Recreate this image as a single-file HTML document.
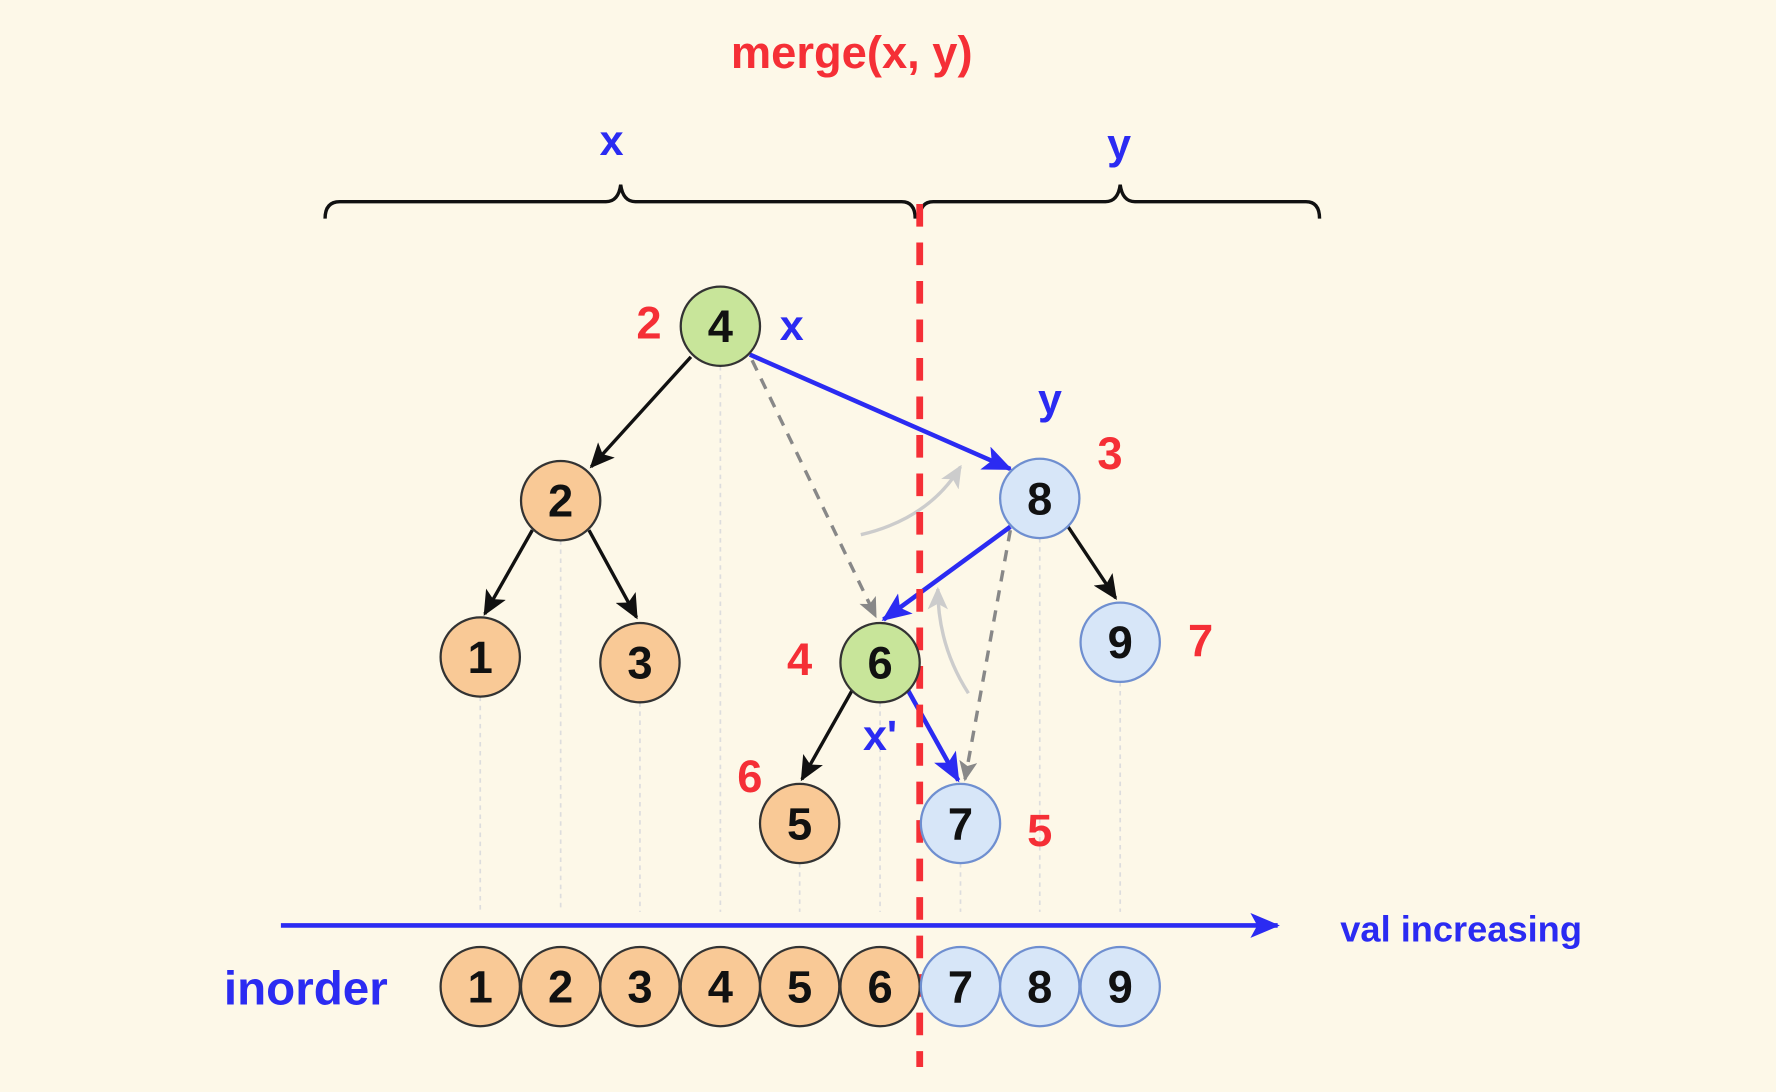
<!DOCTYPE html>
<html><head><meta charset="utf-8"><style>
html,body{margin:0;padding:0;background:#fdf8e8;}
svg{display:block}
text{font-family:"Liberation Sans","DejaVu Sans",sans-serif;font-weight:bold}
</style></head><body>
<svg width="1776" height="1092" viewBox="0 0 1568 964" xmlns="http://www.w3.org/2000/svg">
<defs>
<marker id="ak" markerWidth="10" markerHeight="10" refX="8" refY="5" orient="auto" markerUnits="userSpaceOnUse" viewBox="0 0 10 10"><path d="M0,0 L10,5 L0,10 L3,5z" fill="#111"/></marker>
<marker id="ab" markerWidth="26" markerHeight="22" refX="24" refY="11" orient="auto" markerUnits="userSpaceOnUse"><path d="M0,0 L26,11 L0,22 L6,11z" fill="#2b2bf2"/></marker>
<marker id="ak2" markerWidth="22" markerHeight="20" refX="20" refY="10" orient="auto" markerUnits="userSpaceOnUse"><path d="M0,0 L22,10 L0,20 L5,10z" fill="#111"/></marker>
<marker id="ag" markerWidth="18" markerHeight="16" refX="16" refY="8" orient="auto" markerUnits="userSpaceOnUse"><path d="M0,0 L18,8 L0,16 L4,8z" fill="#888"/></marker>
<marker id="al" markerWidth="20" markerHeight="18" refX="18" refY="9" orient="auto" markerUnits="userSpaceOnUse"><path d="M0,0 L20,9 L0,18 L5,9z" fill="#ccc"/></marker>
</defs>
<rect width="1568" height="964" fill="#fdf8e8"/>
<text x="752" y="60" font-size="40" fill="#f52f36" text-anchor="middle">merge(x, y)</text>
<text x="540" y="137" font-size="38" fill="#2b2bf2" text-anchor="middle">x</text>
<text x="988" y="140" font-size="38" fill="#2b2bf2" text-anchor="middle">y</text>
<g fill="none" stroke="#111" stroke-width="3">
<path d="M287,193 Q287,178 300,178 L535,178 Q546,178 548,163 Q550,178 561,178 L796,178 Q808,178 808,193"/>
<path d="M812,193 Q812,178 824,178 L976,178 Q987,178 989,163 Q991,178 1002,178 L1153,178 Q1165,178 1165,193"/>
</g>
<g stroke="#ddd" stroke-width="1.5" stroke-dasharray="4,4">
<line x1="424" y1="615" x2="424" y2="805"/><line x1="495" y1="477" x2="495" y2="805"/><line x1="565" y1="620" x2="565" y2="805"/><line x1="636" y1="323" x2="636" y2="805"/><line x1="706" y1="762" x2="706" y2="805"/><line x1="777" y1="620" x2="777" y2="805"/><line x1="848" y1="762" x2="848" y2="805"/><line x1="918" y1="475" x2="918" y2="805"/><line x1="989" y1="602" x2="989" y2="805"/>
</g>
<g stroke="#111" stroke-width="3" fill="none">
<line x1="610" y1="315" x2="522" y2="412" marker-end="url(#ak2)"/>
<line x1="470" y1="468" x2="428" y2="542" marker-end="url(#ak2)"/>
<line x1="520" y1="468" x2="562" y2="545" marker-end="url(#ak2)"/>
<line x1="752" y1="610" x2="708" y2="688" marker-end="url(#ak2)"/>
<line x1="943" y1="465" x2="985" y2="528" marker-end="url(#ak2)"/>
</g>
<g stroke="#888" stroke-width="3" stroke-dasharray="10,8" fill="none">
<line x1="664" y1="318" x2="773" y2="544" marker-end="url(#ag)"/>
<line x1="892" y1="468" x2="852" y2="688" marker-end="url(#ag)"/>
</g>
<g stroke="#ccc" stroke-width="3" fill="none">
<path d="M760,472 Q820,458 848,412" marker-end="url(#al)"/>
<path d="M855,612 Q828,570 828,520" marker-end="url(#al)"/>
</g>
<g stroke="#2b2bf2" stroke-width="4" fill="none">
<line x1="662" y1="313" x2="892" y2="414" marker-end="url(#ab)"/>
<line x1="892" y1="465" x2="780" y2="547" marker-end="url(#ab)"/>
<line x1="802" y1="610" x2="846" y2="689" marker-end="url(#ab)"/>
<line x1="248" y1="817" x2="1128" y2="817" marker-end="url(#ab)"/>
</g>
<line x1="812" y1="180" x2="812" y2="942" stroke="#f52f36" stroke-width="6" stroke-dasharray="20,14"/>
<g stroke-width="2" font-size="40" text-anchor="middle">
<g stroke="#333">
<circle cx="636" cy="288" r="35" fill="#c8e59a"/>
<circle cx="777" cy="585" r="35" fill="#c8e59a"/>
<circle cx="495" cy="442" r="35" fill="#f9c996"/>
<circle cx="424" cy="580" r="35" fill="#f9c996"/>
<circle cx="565" cy="585" r="35" fill="#f9c996"/>
<circle cx="706" cy="727" r="35" fill="#f9c996"/>
<circle cx="424" cy="871" r="35" fill="#f9c996"/>
<circle cx="495" cy="871" r="35" fill="#f9c996"/>
<circle cx="565" cy="871" r="35" fill="#f9c996"/>
<circle cx="636" cy="871" r="35" fill="#f9c996"/>
<circle cx="706" cy="871" r="35" fill="#f9c996"/>
<circle cx="777" cy="871" r="35" fill="#f9c996"/>
</g>
<g stroke="#6f8fd0">
<circle cx="918" cy="440" r="35" fill="#d7e6f8"/>
<circle cx="989" cy="567" r="35" fill="#d7e6f8"/>
<circle cx="848" cy="727" r="35" fill="#d7e6f8"/>
<circle cx="848" cy="871" r="35" fill="#d7e6f8"/>
<circle cx="918" cy="871" r="35" fill="#d7e6f8"/>
<circle cx="989" cy="871" r="35" fill="#d7e6f8"/>
</g>
<g fill="#111" stroke="none">
<text x="636" y="302">4</text><text x="777" y="599">6</text><text x="495" y="456">2</text><text x="424" y="594">1</text><text x="565" y="599">3</text><text x="706" y="741">5</text>
<text x="918" y="454">8</text><text x="989" y="581">9</text><text x="848" y="741">7</text>
<text x="424" y="885">1</text><text x="495" y="885">2</text><text x="565" y="885">3</text><text x="636" y="885">4</text><text x="706" y="885">5</text><text x="777" y="885">6</text><text x="848" y="885">7</text><text x="918" y="885">8</text><text x="989" y="885">9</text>
</g>
</g>
<g font-size="40" fill="#f52f36" text-anchor="middle">
<text x="573" y="299">2</text><text x="980" y="414">3</text><text x="706" y="596">4</text><text x="1060" y="579">7</text><text x="662" y="699">6</text><text x="918" y="747">5</text>
</g>
<g font-size="38" fill="#2b2bf2" text-anchor="middle">
<text x="699" y="300">x</text><text x="927" y="365">y</text><text x="777" y="662">x'</text>
</g>
<text x="270" y="887" font-size="42" fill="#2b2bf2" text-anchor="middle">inorder</text>
<text x="1290" y="831" font-size="32" fill="#2b2bf2" text-anchor="middle">val increasing</text>
</svg>
</body></html>
